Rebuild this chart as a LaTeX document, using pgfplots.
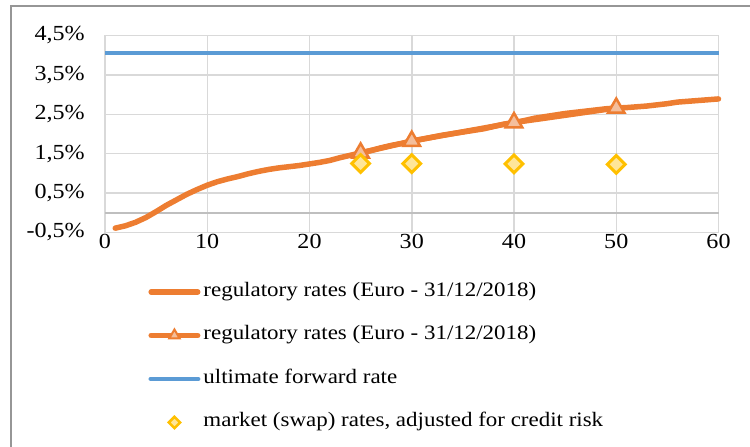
\documentclass[border=0pt]{standalone}
\usepackage{pgfplots}
\pgfplotsset{compat=1.18}
\usepackage{fontspec}
\setmainfont[FakeStretch=1.12]{Liberation Serif}
\definecolor{cOrange}{RGB}{237,125,49}
\definecolor{cBlue}{RGB}{91,155,213}
\definecolor{cGold}{RGB}{255,192,0}
\definecolor{cGoldFill}{RGB}{255,230,153}
\definecolor{cTriFill}{RGB}{244,190,155}
\definecolor{cGrid}{RGB}{217,217,217}
\definecolor{cAxis}{RGB}{191,191,191}
\definecolor{cBorder}{RGB}{150,150,150}
\newcommand{\fs}{\fontsize{20.5}{24}\selectfont}
\newcommand{\ft}{\fontsize{21.5}{25}\selectfont}
\pgfplotstableread{
x y
1 -0.39
2 -0.33
3 -0.24
4 -0.12
5 0.03
6 0.19
7 0.33
8 0.47
9 0.59
10 0.70
11 0.79
12 0.86
13 0.92
14 0.99
15 1.05
16 1.10
17 1.14
18 1.17
19 1.20
20 1.24
21 1.28
22 1.33
23 1.40
24 1.46
25 1.52
26 1.58
27 1.65
28 1.71
29 1.76
30 1.82
31 1.87
32 1.92
33 1.97
34 2.01
35 2.05
36 2.09
37 2.13
38 2.19
39 2.25
40 2.29
41 2.34
42 2.40
43 2.44
44 2.48
45 2.52
46 2.55
47 2.58
48 2.61
49 2.64
50 2.66
51 2.67
52 2.69
53 2.71
54 2.74
55 2.77
56 2.81
57 2.83
58 2.85
59 2.87
60 2.89
}\regcurve
\begin{document}
\begin{tikzpicture}
\useasboundingbox (0,0) rectangle (750pt,447pt);
\draw[cBorder, line width=1.2pt] (11pt,-5pt) -- (11pt,441pt) -- (755pt,441pt);
\begin{axis}[
  at={(105pt,214.5pt)}, anchor=south west,
  scale only axis, width=613.5pt, height=197pt,
  xmin=0, xmax=60, ymin=-0.5, ymax=4.5,
  xtick={0,10,...,60},
  ytick={-0.5,0.5,1.5,2.5,3.5,4.5},
  yticklabels={{\raisebox{-5pt}{-0,5\%}},{0,5\%},{1,5\%},{2,5\%},{3,5\%},{4,5\%}},
  extra y ticks={0}, extra y tick labels={},
  extra y tick style={grid style={cAxis, line width=1.5pt}},
  grid=major, grid style={cGrid, line width=1.5pt},
  axis line style={cGrid, line width=1.5pt},
  major tick length=0pt,
  tick label style={font=\ft, text=black},
  /pgf/number format/assume math mode=true,
  xticklabel style={inner xsep=0pt, inner ysep=2pt},
  yticklabel style={inner xsep=20pt, inner ysep=0pt},
  clip=false,
  legend style={draw=none, fill=none, at={(axis description cs:0.0705,-0.25)}, anchor=north west,
    inner sep=0pt, row sep=23.5pt, column sep=3pt, font=\fs,
    nodes={inner sep=0pt, text height=14pt, text depth=5pt}},
  legend cell align=left,
]
\addplot[cBlue, line width=4.5pt, forget plot] coordinates {(0,4.05) (60,4.05)};
\addplot[cOrange, line width=5.5pt, line cap=round, line join=round, forget plot] table[x=x,y=y] {\regcurve};
\addplot[cOrange, line width=5.5pt, line join=round, mark=triangle*, mark size=9.5pt,
  mark options={draw=cOrange, fill=cTriFill, line width=2.5pt, line join=miter}, forget plot]
  coordinates {(25,1.52) (30,1.82) (40,2.29) (50,2.66)};
\addplot[only marks, mark=square*, mark size=6.3pt,
  mark options={rotate=45, draw=cGold, fill=cGoldFill, line width=3pt}, forget plot]
  coordinates {(25,1.25) (30,1.25) (40,1.24) (50,1.23)};
\addlegendimage{legend image code/.code={\path[draw=none] (0pt,-10pt) rectangle (52pt,10pt);
  \draw[cOrange, line width=5.5pt, line cap=round] (2.75pt,0pt) -- (49.25pt,0pt);}}
\addlegendentry{regulatory rates (Euro - 31/12/2018)}
\addlegendimage{legend image code/.code={\path[draw=none] (0pt,-10pt) rectangle (52pt,10pt);
  \draw[cOrange, line width=5.5pt, line cap=round] (2.75pt,0pt) -- (49.25pt,0pt);
  \path[draw=none] plot[mark=triangle*, mark size=6pt, mark options={draw=cOrange, fill=cTriFill, line width=2pt}] coordinates {(26pt,0pt)};}}
\addlegendentry{regulatory rates (Euro - 31/12/2018)}
\addlegendimage{legend image code/.code={\path[draw=none] (0pt,-10pt) rectangle (52pt,10pt);
  \draw[cBlue, line width=4.5pt, line cap=round] (2.25pt,0pt) -- (49.75pt,0pt);}}
\addlegendentry{ultimate forward rate}
\addlegendimage{legend image code/.code={\path[draw=none] (0pt,-10pt) rectangle (52pt,10pt);
  \path[draw=none] plot[mark=square*, mark size=4pt, mark options={rotate=45, draw=cGold, fill=cGoldFill, line width=2.5pt}] coordinates {(26pt,0pt)};}}
\addlegendentry{market (swap) rates, adjusted for credit risk}
\end{axis}
\end{tikzpicture}
\end{document}
